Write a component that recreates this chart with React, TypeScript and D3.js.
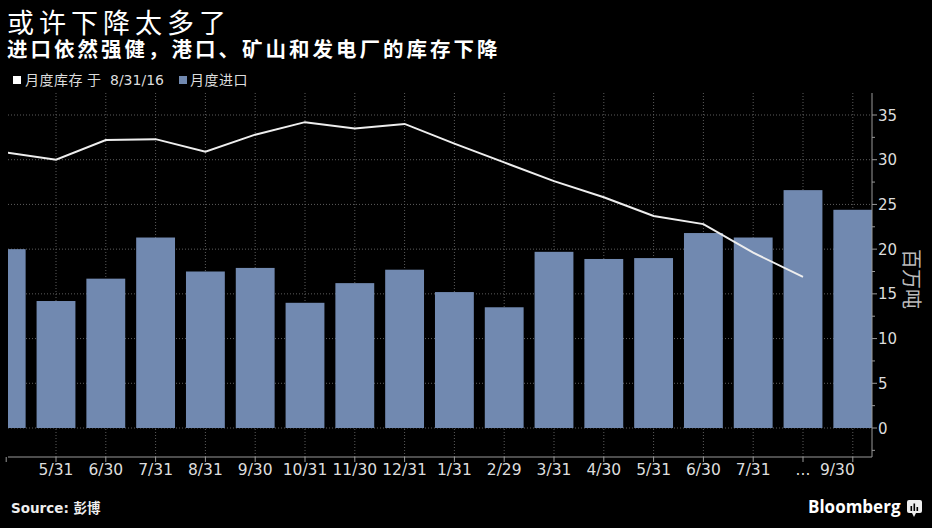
import React from "react";
import * as d3 from "d3";

const categories = ["4/30","5/31","6/30","7/31","8/31","9/30","10/31","11/30","12/31","1/31","2/29","3/31","4/30","5/31","6/30","7/31","...","9/30"];
const importsMonthly = [20.0,14.2,16.7,21.3,17.5,17.9,14.0,16.2,17.7,15.2,13.5,19.7,18.9,19.0,21.8,21.3,26.6,24.4];
const inventory = [30.8,30.0,32.2,32.3,30.9,32.8,34.2,33.5,34.0,31.8,29.7,27.6,25.8,23.7,22.8,19.6,16.9];
const yTicks = [0,5,10,15,20,25,30,35];
const yMinor = [-2.5,2.5,7.5,12.5,17.5,22.5,27.5,32.5];

const title = "或许下降太多了";
const subtitle = "进口依然强健，港口、矿山和发电厂的库存下降";
const legendLine = ["月度库存", "于", "8/31/16"];
const legendBar = "月度进口";
const yTitle = "百万吨";

const W = 932, H = 528;
const plotL = 8, plotR = 872, plotT = 93, plotB = 457;
const BAR = "#7189b0";
const GRID = "#5c5c5c";
const LATIN = "'DejaVu Sans', 'Noto Sans CJK SC', sans-serif";
const CJK = "'Noto Sans CJK SC', sans-serif";

export default function App() {
  const keys = categories.map((_, i) => String(i));
  const x = d3.scaleBand<string>().domain(keys).range([-18.7, 877.7]).paddingInner(0.22).paddingOuter(0.11);
  const y = d3.scaleLinear().domain([0, 35]).range([428, 115]);
  const cx = (i: number) => (x(String(i)) as number) + x.bandwidth() / 2;
  const line = d3.line<number>().x((_, i) => cx(i)).y((d) => y(d));

  return (
    <svg width={W} height={H} style={{ position: "absolute", left: 0, top: 0, background: "#000" }}>
      <rect x={0} y={0} width={W} height={H} fill="#000" />
      <defs>
        <clipPath id="plot">
          <rect x={plotL} y={plotT} width={plotR - plotL} height={plotB - plotT} />
        </clipPath>
      </defs>
      <text x={7} y={33} fill="#fff" fontFamily={CJK} fontSize={27} letterSpacing={5}>{title}</text>
      <text x={7} y={57} fill="#fff" fontFamily={CJK} fontSize={20.5} fontWeight={700} letterSpacing={3}>{subtitle}</text>
      <rect x={13} y={76} width={8} height={8} fill="#fff" />
      <text y={85} fill="#ddd" fontFamily={LATIN} fontSize={14}>
        <tspan x={25} fontFamily={CJK} letterSpacing={0.5}>{legendLine[0]}</tspan>
        <tspan x={87} fontFamily={CJK}>{legendLine[1]}</tspan>
        <tspan x={110}>{legendLine[2]}</tspan>
      </text>
      <rect x={179} y={76} width={8} height={8} fill={BAR} />
      <text x={190} y={85} fill="#ddd" fontFamily={CJK} fontSize={14} letterSpacing={0.5}>{legendBar}</text>

      <g clipPath="url(#plot)">
        {yTicks.map((t) => (
          <line key={"h" + t} x1={plotL} x2={plotR} y1={y(t)} y2={y(t)} stroke={GRID} strokeDasharray="1,2" />
        ))}
        {keys.map((k, i) => (
          <line key={"v" + k} x1={cx(i)} x2={cx(i)} y1={plotT} y2={plotB} stroke={GRID} strokeDasharray="1,2" />
        ))}
        {importsMonthly.map((v, i) => (
          <rect key={"b" + i} x={x(String(i)) as number} width={x.bandwidth()} y={y(v)} height={y(0) - y(v)} fill={BAR} />
        ))}
        <path d={line(inventory) || ""} fill="none" stroke="#eee" strokeWidth={2} />
      </g>

      <line x1={plotL} x2={plotR} y1={plotB} y2={plotB} stroke="#999" />
      <line x1={plotR} x2={plotR} y1={plotT} y2={plotB} stroke="#999" />
      {keys.map((k, i) => (
        <line key={"xt" + k} x1={cx(i)} x2={cx(i)} y1={plotB} y2={plotB + 5} stroke="#999" />
      ))}
      {categories.map((c, i) =>
        i === 0 ? null : (
          <text key={"xl" + i} x={i === categories.length - 1 ? cx(i) + 2 : cx(i)} y={475}
            textAnchor={i === categories.length - 1 ? "end" : "middle"}
            fill="#ddd" fontFamily={LATIN} fontSize={15.5}>{c}</text>
        )
      )}
      {yTicks.map((t) => (
        <g key={"yt" + t}>
          <line x1={plotR} x2={plotR + 5} y1={y(t)} y2={y(t)} stroke="#999" />
          <text x={878} y={y(t) + 5.5} fill="#ddd" fontFamily={LATIN} fontSize={15}>{t}</text>
        </g>
      ))}
      {yMinor.map((t) => (
        <line key={"ym" + t} x1={plotR} x2={plotR + 3} y1={y(t)} y2={y(t)} stroke="#999" />
      ))}
      <text transform="translate(912,279) rotate(90)" textAnchor="middle" dominantBaseline="central"
        fill="#bbb" fontFamily={CJK} fontSize={20}>{yTitle}</text>

      <text x={11} y={513} fill="#eee" fontFamily={LATIN} fontSize={13.5} fontWeight={700}>
        Source: <tspan fontFamily={CJK}>彭博</tspan>
      </text>
      <text x={808} y={513} fill="#fff" fontFamily="'Open Sans', sans-serif" fontSize={17} fontWeight={700}>Bloomberg</text>
      <g>
        <rect x={907} y={500} width={15} height={13} rx={2} fill="#eee" />
        <path d="M912,513 L914,517 L916,513 Z" fill="#eee" />
        <rect x={910.5} y={506} width={1.6} height={5} fill="#000" />
        <rect x={913.5} y={503.5} width={1.6} height={7.5} fill="#000" />
        <rect x={916.5} y={507} width={1.6} height={4} fill="#000" />
      </g>
    </svg>
  );
}
